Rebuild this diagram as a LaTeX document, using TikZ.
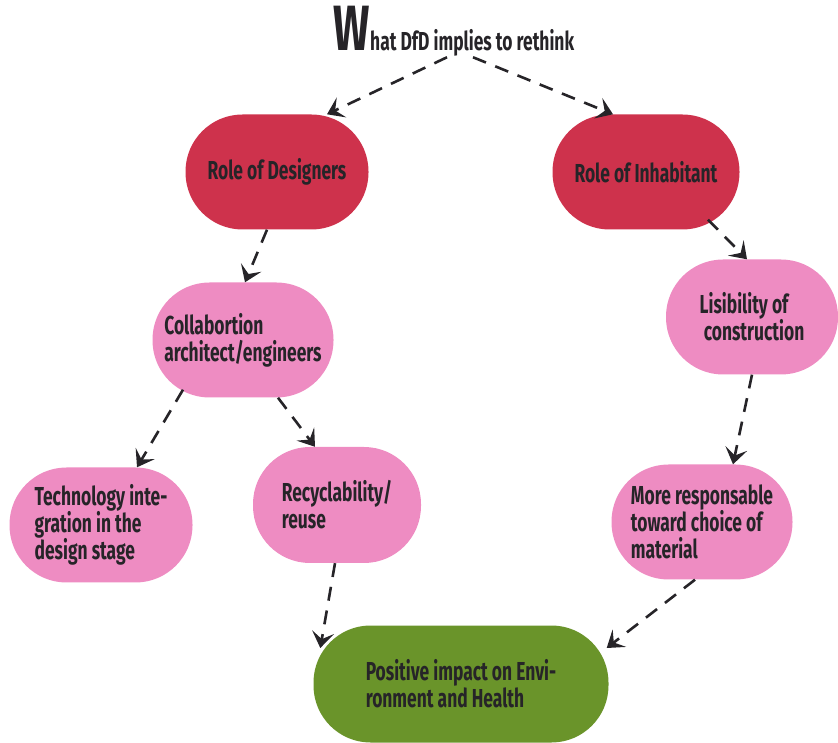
\documentclass[tikz,border=0pt]{standalone}
\usepackage{fontspec}
\setmainfont[FakeStretch=0.67]{Fira Sans}
\usepackage{tikz}
\usetikzlibrary{arrows.meta,calc}

\definecolor{rolered}{RGB}{206,50,76}
\definecolor{stagepink}{RGB}{238,140,194}
\definecolor{goalgreen}{RGB}{106,148,42}
\definecolor{ink}{RGB}{38,36,40}

\begin{document}
\begin{tikzpicture}
  [
    x=1pt, y=1pt,
    pill/.style =
      {rectangle, rounded corners=57pt, align=left, text=ink,
       font=\bfseries\fontsize{26}{27}\selectfont,
       minimum width=183pt, minimum height=115pt},
    role/.style  = {pill, fill=rolered},
    stage/.style = {pill, fill=stagepink},
    goal/.style  = {pill, fill=goalgreen, minimum width=295pt, minimum height=117pt},
    flow/.style  =
      {draw=ink, line width=2.6pt, dash pattern=on 14pt off 10pt,
       -{Stealth[length=16pt,width=22pt,inset=7pt]}}
  ]
  \useasboundingbox (0,0) rectangle (838,742);

  \node [text=ink, font=\bfseries, inner sep=1pt] at (454,711) (h)
    {{\fontsize{64}{64}\selectfont W}{\fontsize{26}{26}\selectfont hat DfD implies to rethink}};
  \node [role]  at (277,570) (d) {Role of Designers};
  \node [role, minimum width=187pt] at (646,570) (i) {Role of Inhabitant};
  \node [stage, minimum width=181pt] at (243,402) (c) {Collabortion\\architect/engineers};
  \node [stage, minimum width=172pt] at (752,425) (l) {Lisibility of\\\ construction};
  \node [stage] at (101,217) (t) {Technology inte-\\gration in the\\design stage};
  \node [stage, minimum width=168pt, minimum height=116pt] at (337,237) (r) {Recyclability/\\reuse};
  \node [stage, minimum width=181pt] at (702,220) (m) {More responsable\\toward choice of\\material};
  \node [goal]  at (461,58) (p) {Positive impact on Envi-\\ronment and Health};

  \draw[flow] ([xshift=-7pt]h.south)          -- ([xshift=50pt]d.north);
  \draw[flow] ([xshift=19pt]h.south)          -- ([xshift=-33pt]i.north);
  \draw[flow] ([xshift=-10pt]d.south)         -- ([xshift=2pt]c.north);
  \draw[flow] ([xshift=62pt,yshift=10pt]i.south) -- ([xshift=-5pt]l.north);
  \draw[flow] (l.south)                       -- ([xshift=31pt]m.north);
  \draw[flow] ([xshift=-60pt,yshift=8pt]c.south) -- ([xshift=36pt]t.north);
  \draw[flow] ([xshift=35pt]c.south)          -- ([xshift=-22pt]r.north);
  \draw[flow] ([xshift=-2pt]r.south)          -- ([shift={(7pt,36pt)}]p.west);
  \draw[flow] ([xshift=-7pt]m.south)          -- ([shift={(-2pt,36pt)}]p.east);
\end{tikzpicture}
\end{document}
